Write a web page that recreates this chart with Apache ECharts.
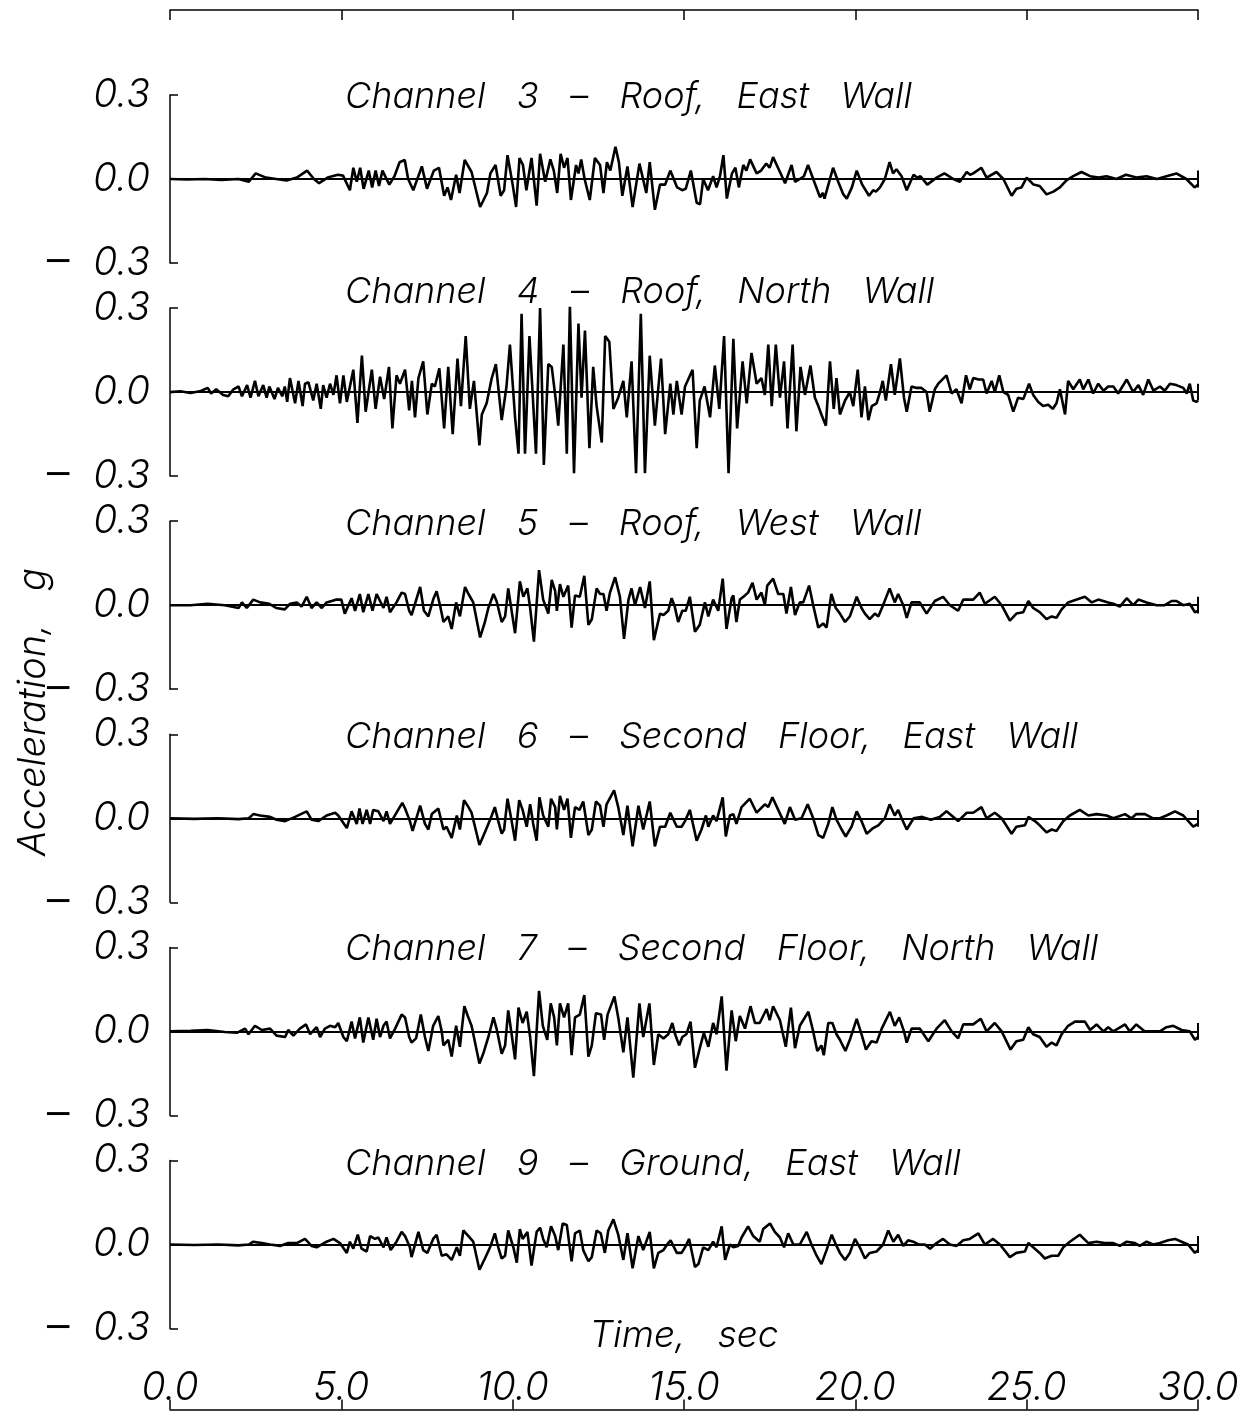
<!DOCTYPE html>
<html>
<head>
<meta charset="utf-8">
<script src="https://cdn.jsdelivr.net/npm/echarts@6/dist/echarts.min.js"></script>
<style>
html,body{margin:0;padding:0;background:#fff;}
#chart{width:1255px;height:1418px;}
</style>
</head>
<body>
<div id="chart"></div>
<script>
// ---- data (time in s, acceleration in g) ----
const G = "\u2002\u200A "; // wide word gap
const channelTitles = [
  ["Channel", "3", "\u2013", "Roof,", "East", "Wall"].join(G),
  ["Channel", "4", "\u2013", "Roof,", "North", "Wall"].join(G),
  ["Channel", "5", "\u2013", "Roof,", "West", "Wall"].join(G),
  ["Channel", "6", "\u2013", "Second", "Floor,", "East", "Wall"].join(G),
  ["Channel", "7", "\u2013", "Second", "Floor,", "North", "Wall"].join(G),
  ["Channel", "9", "\u2013", "Ground,", "East", "Wall"].join(G)
];
const xTicks = [0, 5, 10, 15, 20, 25, 30];
const yTicks = [-0.3, 0.0, 0.3];

const ch3 = [[0,0],[0.5,-0.002],[1,0],[1.5,-0.003],[2,0],[2.3,-0.01],[2.5,0.02],[2.8,0.005],[3.1,0.0],[3.4,-0.005],[3.7,0.005],[4.0,0.03],[4.2,0.0],[4.35,-0.015],[4.6,0.005],[4.9,0.015],[5.05,0.012],[5.25,-0.04],[5.35,0.04],[5.45,-0.01],[5.55,0.04],[5.65,-0.035],[5.8,0.03],[5.9,-0.03],[6.0,0.03],[6.1,-0.025],[6.2,0.03],[6.4,-0.02],[6.55,0.01],[6.7,0.06],[6.85,0.068],[6.95,0.0],[7.1,-0.04],[7.35,0.045],[7.5,-0.035],[7.7,0.03],[7.85,0.04],[8.0,-0.06],[8.1,-0.03],[8.2,-0.075],[8.35,0.015],[8.45,-0.05],[8.6,0.068],[8.8,0.025],[9.05,-0.1],[9.25,-0.05],[9.35,0.02],[9.5,0.05],[9.65,-0.06],[9.75,-0.04],[9.85,0.085],[10.0,-0.02],[10.1,-0.1],[10.2,0.075],[10.3,0.05],[10.4,-0.04],[10.55,0.075],[10.7,-0.095],[10.8,0.09],[10.95,-0.01],[11.1,0.07],[11.2,0.03],[11.3,-0.05],[11.4,0.09],[11.5,0.04],[11.6,0.075],[11.7,-0.075],[11.85,0.05],[11.92,0.02],[12.0,0.07],[12.1,0.0],[12.25,-0.075],[12.4,0.075],[12.55,0.05],[12.65,-0.05],[12.75,0.06],[12.85,0.03],[13.0,0.115],[13.1,0.06],[13.2,-0.06],[13.35,0.045],[13.5,-0.1],[13.7,0.055],[13.9,-0.05],[14.0,0.06],[14.15,-0.11],[14.3,-0.02],[14.45,-0.02],[14.6,0.03],[14.8,-0.03],[14.95,-0.04],[15.05,-0.035],[15.2,0.03],[15.37,-0.085],[15.47,-0.09],[15.56,0.0],[15.7,-0.04],[15.85,0.01],[15.95,-0.03],[16.05,0.01],[16.15,0.085],[16.25,-0.07],[16.4,0.02],[16.5,0.04],[16.6,-0.03],[16.73,0.05],[16.82,0.03],[16.93,0.07],[17.12,0.02],[17.25,0.03],[17.4,0.055],[17.5,0.04],[17.6,0.078],[17.8,0.025],[17.95,-0.015],[18.14,0.05],[18.24,-0.01],[18.38,0.0],[18.5,0.01],[18.62,0.05],[18.77,0.0],[18.97,-0.065],[19.05,-0.05],[19.1,-0.07],[19.35,0.04],[19.5,-0.01],[19.65,-0.055],[19.75,-0.07],[19.9,-0.03],[20.04,0.03],[20.2,-0.02],[20.4,-0.06],[20.52,-0.04],[20.6,-0.045],[20.72,-0.03],[20.86,0.0],[21.0,0.06],[21.1,0.02],[21.2,0.035],[21.35,0.01],[21.5,-0.04],[21.7,0.015],[21.8,0.005],[21.9,0.01],[22.1,-0.02],[22.37,0.005],[22.6,0.02],[22.86,0.0],[23.05,-0.01],[23.25,0.025],[23.35,0.015],[23.44,0.02],[23.68,0.04],[23.83,0.005],[24.12,0.025],[24.32,0.0],[24.56,-0.06],[24.7,-0.035],[24.85,-0.03],[25.0,0.005],[25.2,-0.02],[25.38,-0.025],[25.58,-0.055],[25.78,-0.045],[25.97,-0.03],[26.16,-0.005],[26.36,0.01],[26.6,0.025],[26.85,0.01],[27.1,0.005],[27.33,0.01],[27.62,0.0],[27.9,0.015],[28.2,0.005],[28.5,0.01],[28.8,0.0],[29.08,0.01],[29.37,0.02],[29.66,0.0],[29.9,-0.03],[30,-0.02]];

const ch4 = [[0,0],[0.3,0.003],[0.6,-0.003],[0.9,0.004],[1.1,0.015],[1.2,-0.005],[1.35,0.01],[1.55,-0.01],[1.7,-0.015],[1.85,0.01],[2.0,0.02],[2.1,-0.015],[2.25,0.025],[2.35,-0.02],[2.48,0.04],[2.58,-0.015],[2.72,0.025],[2.82,-0.02],[2.9,0.02],[3.05,-0.025],[3.15,0.015],[3.28,-0.015],[3.35,0.02],[3.42,-0.035],[3.5,0.05],[3.65,-0.04],[3.75,0.04],[3.87,-0.05],[3.94,0.03],[4.04,0.035],[4.18,-0.03],[4.28,0.03],[4.4,-0.06],[4.47,0.025],[4.57,-0.02],[4.67,0.03],[4.77,-0.01],[4.86,0.06],[4.96,-0.04],[5.06,0.06],[5.16,-0.035],[5.35,0.08],[5.47,-0.11],[5.6,0.13],[5.71,-0.07],[5.89,0.08],[6.0,-0.06],[6.13,0.055],[6.25,-0.025],[6.39,0.09],[6.49,-0.13],[6.61,0.06],[6.71,0.03],[6.86,0.08],[6.98,-0.065],[7.06,0.04],[7.15,-0.09],[7.25,0.05],[7.39,0.11],[7.51,-0.08],[7.64,0.03],[7.73,0.02],[7.86,0.085],[8.0,-0.13],[8.12,0.09],[8.25,-0.15],[8.39,0.12],[8.49,-0.05],[8.63,0.2],[8.75,-0.06],[8.87,0.04],[9.03,-0.19],[9.1,-0.08],[9.24,-0.04],[9.39,0.05],[9.51,0.1],[9.68,-0.1],[9.82,0.02],[9.92,0.17],[10.07,-0.09],[10.17,-0.22],[10.26,0.28],[10.36,-0.22],[10.49,0.2],[10.68,-0.22],[10.8,0.3],[10.91,-0.26],[11.04,0.1],[11.14,0.09],[11.26,-0.03],[11.33,-0.12],[11.48,0.17],[11.58,-0.22],[11.67,0.31],[11.79,-0.29],[11.92,0.245],[12.01,-0.02],[12.11,0.22],[12.24,-0.2],[12.35,0.09],[12.45,-0.05],[12.6,-0.18],[12.7,0.2],[12.82,0.18],[12.94,-0.06],[13.08,-0.02],[13.23,0.04],[13.33,-0.09],[13.47,0.11],[13.6,-0.29],[13.74,0.28],[13.86,-0.29],[14.0,0.13],[14.15,-0.12],[14.33,0.12],[14.45,-0.15],[14.6,0.03],[14.69,-0.08],[14.79,0.04],[14.93,-0.08],[15.03,0.02],[15.25,0.08],[15.37,-0.2],[15.46,-0.03],[15.6,0.02],[15.76,-0.09],[15.9,0.095],[16.03,-0.06],[16.17,0.2],[16.3,-0.29],[16.44,0.19],[16.55,-0.13],[16.71,0.11],[16.83,-0.04],[16.97,0.14],[17.12,0.03],[17.26,0.05],[17.36,-0.01],[17.46,0.17],[17.56,-0.05],[17.68,0.17],[17.8,-0.02],[17.92,0.11],[18.02,-0.13],[18.17,0.17],[18.28,-0.14],[18.4,0.09],[18.53,-0.01],[18.69,0.095],[18.82,-0.02],[18.92,-0.05],[19.01,-0.08],[19.14,-0.12],[19.26,0.11],[19.37,-0.06],[19.45,0.05],[19.55,-0.08],[19.7,-0.03],[19.84,0.0],[19.94,-0.05],[20.07,0.08],[20.18,-0.09],[20.28,0.02],[20.38,-0.1],[20.48,-0.05],[20.62,-0.04],[20.72,0.0],[20.8,0.04],[20.89,-0.03],[21.04,0.1],[21.15,-0.01],[21.3,0.12],[21.42,-0.02],[21.5,-0.07],[21.64,0.02],[21.79,0.015],[21.93,0.015],[22.08,0.0],[22.17,-0.07],[22.32,0.01],[22.42,0.03],[22.66,0.06],[22.81,-0.005],[22.95,0.01],[23.1,-0.04],[23.23,0.06],[23.34,0.01],[23.44,0.05],[23.6,0.045],[23.73,0.045],[23.83,-0.005],[23.98,0.04],[24.07,0.0],[24.2,0.06],[24.32,0.0],[24.46,-0.01],[24.61,-0.07],[24.75,-0.02],[24.9,-0.025],[25.07,0.03],[25.19,-0.01],[25.34,-0.035],[25.48,-0.05],[25.63,-0.045],[25.76,-0.06],[25.87,-0.04],[25.97,0.01],[26.12,-0.08],[26.21,0.04],[26.36,0.01],[26.55,0.045],[26.65,0.01],[26.8,0.045],[26.94,-0.005],[27.09,0.03],[27.24,0.005],[27.38,0.02],[27.53,0.02],[27.67,-0.005],[27.92,0.045],[28.11,0.0],[28.26,0.025],[28.4,-0.01],[28.55,0.045],[28.7,0.005],[28.89,0.02],[29.03,0.005],[29.18,0.03],[29.37,0.025],[29.57,0.015],[29.67,-0.005],[29.76,0.03],[29.86,-0.03],[29.96,-0.035],[30,-0.03]];

const ch5 = [[0,0],[0.6,0.0],[1.1,0.005],[1.6,0.0],[2.0,-0.01],[2.1,0.01],[2.24,-0.01],[2.43,0.02],[2.63,0.01],[2.9,0.005],[3.1,-0.01],[3.35,-0.015],[3.5,0.005],[3.7,0.01],[3.84,-0.005],[3.99,0.03],[4.13,-0.01],[4.28,0.01],[4.43,-0.01],[4.57,0.01],[4.72,0.015],[4.86,0.02],[5.0,0.02],[5.1,-0.03],[5.3,0.025],[5.4,-0.02],[5.54,0.04],[5.64,-0.025],[5.79,0.04],[5.91,-0.02],[6.03,0.04],[6.23,-0.01],[6.32,0.03],[6.42,-0.025],[6.61,0.01],[6.76,0.045],[6.86,0.04],[6.98,-0.02],[7.05,-0.035],[7.3,0.065],[7.41,-0.02],[7.54,-0.04],[7.68,0.02],[7.78,0.05],[7.88,0.0],[7.98,-0.06],[8.12,-0.04],[8.22,-0.085],[8.35,0.01],[8.46,-0.04],[8.61,0.065],[8.71,0.04],[8.85,0.01],[9.05,-0.115],[9.19,-0.06],[9.29,-0.01],[9.44,0.04],[9.53,0.015],[9.68,-0.06],[9.78,-0.04],[9.87,0.06],[9.92,0.02],[10.07,-0.1],[10.21,0.085],[10.31,0.03],[10.43,0.06],[10.51,-0.01],[10.62,-0.13],[10.77,0.125],[10.89,0.02],[11.04,-0.03],[11.14,0.09],[11.24,0.05],[11.29,-0.02],[11.38,0.075],[11.48,0.03],[11.62,0.07],[11.72,-0.08],[11.82,0.035],[11.96,0.03],[12.09,0.105],[12.21,-0.07],[12.31,-0.05],[12.45,0.06],[12.55,0.04],[12.65,0.04],[12.74,-0.02],[12.84,0.045],[12.99,0.1],[13.13,0.03],[13.25,-0.12],[13.38,0.02],[13.47,0.06],[13.57,0.0],[13.72,0.065],[13.86,-0.01],[14.0,0.085],[14.12,-0.125],[14.3,-0.03],[14.4,-0.035],[14.54,-0.02],[14.64,0.025],[14.73,-0.005],[14.83,-0.06],[14.95,-0.02],[15.05,-0.02],[15.17,0.03],[15.32,-0.095],[15.46,-0.07],[15.61,0.01],[15.71,-0.04],[15.85,0.02],[16.0,-0.02],[16.13,0.095],[16.24,-0.085],[16.39,0.025],[16.44,0.035],[16.53,-0.06],[16.63,0.02],[16.78,0.035],[16.87,0.045],[17.0,0.08],[17.12,0.02],[17.26,0.045],[17.36,0.0],[17.43,0.07],[17.6,0.095],[17.75,0.04],[17.9,0.04],[17.99,-0.03],[18.12,0.065],[18.24,-0.035],[18.38,0.01],[18.48,0.01],[18.65,0.07],[18.77,0.0],[18.92,-0.08],[19.06,-0.065],[19.16,-0.08],[19.3,0.04],[19.43,-0.01],[19.55,-0.03],[19.7,-0.06],[19.84,-0.04],[20.04,0.03],[20.18,-0.01],[20.28,-0.03],[20.42,-0.05],[20.57,-0.03],[20.67,-0.04],[20.81,0.0],[21.0,0.06],[21.15,0.01],[21.25,0.04],[21.4,0.0],[21.5,-0.045],[21.64,0.01],[21.88,0.01],[22.08,-0.03],[22.32,0.015],[22.56,0.03],[22.76,0.0],[23.0,-0.02],[23.15,0.02],[23.44,0.02],[23.63,0.045],[23.78,0.005],[24.07,0.03],[24.27,0.0],[24.51,-0.055],[24.7,-0.03],[24.9,-0.025],[25.05,0.015],[25.19,-0.01],[25.38,-0.025],[25.58,-0.05],[25.73,-0.04],[25.87,-0.045],[26.02,-0.015],[26.21,0.01],[26.46,0.02],[26.7,0.03],[26.9,0.01],[27.09,0.02],[27.38,0.01],[27.53,0.005],[27.72,-0.005],[27.92,0.025],[28.11,0.0],[28.26,0.02],[28.5,0.01],[28.79,0.0],[29.03,0.0],[29.23,0.015],[29.37,0.015],[29.57,0.0],[29.76,0.005],[29.91,-0.025],[30,-0.02]];

const ch6 = [[0,0],[0.7,-0.002],[1.4,0.0],[2.0,-0.003],[2.3,0.0],[2.43,0.015],[2.63,0.01],[2.92,0.005],[3.11,-0.005],[3.36,-0.01],[3.65,0.005],[3.99,0.025],[4.13,-0.005],[4.33,-0.01],[4.57,0.01],[4.82,0.02],[4.91,0.01],[5.16,-0.035],[5.3,0.025],[5.45,-0.02],[5.53,0.035],[5.62,-0.02],[5.74,0.03],[5.84,-0.02],[5.93,0.03],[6.08,0.025],[6.23,-0.01],[6.32,0.025],[6.42,-0.02],[6.61,0.02],[6.78,0.055],[6.86,0.035],[7.0,-0.01],[7.08,-0.045],[7.3,0.045],[7.44,-0.02],[7.54,-0.04],[7.64,0.015],[7.83,0.035],[7.98,-0.04],[8.07,-0.03],[8.22,-0.07],[8.37,0.01],[8.46,-0.04],[8.58,0.065],[8.71,0.04],[8.8,0.02],[9.03,-0.095],[9.19,-0.05],[9.29,-0.02],[9.39,0.01],[9.48,0.04],[9.58,-0.01],[9.68,-0.055],[9.75,-0.04],[9.85,0.07],[9.97,-0.01],[10.07,-0.08],[10.19,0.065],[10.29,0.03],[10.41,-0.03],[10.51,0.05],[10.6,-0.02],[10.7,-0.08],[10.78,0.075],[10.89,0.01],[11.04,-0.03],[11.12,0.07],[11.24,0.04],[11.29,-0.04],[11.38,0.08],[11.5,0.03],[11.6,0.07],[11.7,-0.07],[11.82,0.04],[11.95,0.03],[12.06,0.06],[12.21,-0.06],[12.31,-0.04],[12.43,0.06],[12.55,0.045],[12.65,-0.03],[12.74,0.05],[12.96,0.1],[13.08,0.04],[13.23,-0.06],[13.35,0.045],[13.5,-0.1],[13.67,0.045],[13.81,-0.04],[14.0,0.06],[14.15,-0.1],[14.3,-0.03],[14.45,-0.03],[14.6,0.02],[14.79,-0.03],[14.93,-0.03],[15.03,-0.01],[15.17,0.03],[15.37,-0.08],[15.51,-0.04],[15.64,0.01],[15.71,-0.03],[15.85,0.01],[15.95,-0.01],[16.13,0.075],[16.22,-0.065],[16.34,0.01],[16.44,0.015],[16.53,-0.02],[16.68,0.04],[16.92,0.07],[17.12,0.02],[17.36,0.05],[17.46,0.04],[17.58,0.075],[17.75,0.03],[17.94,-0.02],[18.09,0.04],[18.24,-0.005],[18.43,0.0],[18.61,0.05],[18.77,0.0],[18.92,-0.06],[19.06,-0.07],[19.21,-0.02],[19.33,0.04],[19.45,-0.005],[19.6,-0.04],[19.72,-0.065],[19.89,-0.03],[20.04,0.025],[20.18,-0.01],[20.33,-0.055],[20.52,-0.035],[20.67,-0.025],[20.86,0.0],[21.0,0.05],[21.15,0.01],[21.25,0.03],[21.35,0.0],[21.5,-0.04],[21.7,0.0],[21.95,0.005],[22.2,-0.005],[22.46,0.005],[22.66,0.025],[23.0,-0.01],[23.25,0.02],[23.44,0.02],[23.68,0.04],[23.83,0.0],[24.07,0.02],[24.27,0.0],[24.56,-0.055],[24.7,-0.03],[24.95,-0.025],[25.05,0.005],[25.24,-0.01],[25.38,-0.025],[25.58,-0.05],[25.73,-0.04],[25.87,-0.045],[26.07,-0.01],[26.26,0.01],[26.55,0.03],[26.8,0.01],[27.04,0.015],[27.33,0.01],[27.53,0.0],[27.87,0.015],[28.06,0.0],[28.2,0.015],[28.45,0.015],[28.69,0.0],[28.89,0.0],[29.08,0.01],[29.33,0.025],[29.57,0.01],[29.86,-0.03],[30,-0.02]];

const ch7 = [[0,0],[0.6,0.002],[1.1,0.005],[1.6,-0.002],[1.95,-0.005],[2.19,0.01],[2.29,-0.01],[2.48,0.02],[2.68,0.005],[2.92,0.01],[3.11,-0.015],[3.36,-0.02],[3.45,0.005],[3.6,-0.015],[3.79,0.01],[3.97,0.025],[4.09,-0.01],[4.28,0.015],[4.38,-0.02],[4.52,0.01],[4.67,0.02],[4.82,0.015],[4.91,0.03],[5.06,-0.02],[5.16,-0.035],[5.3,0.035],[5.4,-0.025],[5.54,0.05],[5.64,-0.04],[5.79,0.05],[5.93,-0.03],[6.03,0.045],[6.13,-0.02],[6.23,0.02],[6.32,0.035],[6.42,-0.025],[6.57,0.01],[6.76,0.06],[6.86,0.05],[6.98,-0.02],[7.05,-0.04],[7.18,-0.025],[7.32,0.06],[7.44,-0.02],[7.54,-0.07],[7.68,0.02],[7.83,0.055],[7.93,0.0],[7.98,-0.05],[8.12,-0.03],[8.22,-0.09],[8.35,0.02],[8.46,-0.055],[8.59,0.09],[8.69,0.055],[8.8,0.02],[9.03,-0.115],[9.14,-0.08],[9.29,-0.02],[9.44,0.05],[9.53,0.01],[9.68,-0.08],[9.78,-0.05],[9.87,0.075],[9.97,-0.01],[10.07,-0.1],[10.17,0.085],[10.29,0.03],[10.41,0.07],[10.51,-0.02],[10.62,-0.16],[10.77,0.145],[10.88,0.02],[11.01,-0.03],[11.11,0.1],[11.21,0.05],[11.29,-0.05],[11.38,0.1],[11.5,0.05],[11.62,0.1],[11.72,-0.085],[11.82,0.05],[11.96,0.06],[12.09,0.13],[12.21,-0.09],[12.31,-0.05],[12.43,0.065],[12.58,0.06],[12.67,-0.03],[12.77,0.06],[12.97,0.125],[13.08,0.05],[13.23,-0.075],[13.35,0.05],[13.52,-0.165],[13.7,0.1],[13.81,-0.02],[13.99,0.1],[14.12,-0.12],[14.25,-0.01],[14.4,-0.025],[14.54,-0.01],[14.66,0.03],[14.74,-0.01],[14.86,-0.05],[14.95,-0.02],[15.07,-0.01],[15.19,0.035],[15.32,-0.13],[15.46,-0.06],[15.58,-0.005],[15.71,-0.055],[15.85,0.03],[15.95,-0.01],[16.1,0.125],[16.24,-0.14],[16.39,0.075],[16.51,-0.035],[16.63,0.055],[16.78,0.01],[16.94,0.09],[17.07,0.03],[17.21,0.03],[17.41,0.08],[17.5,0.04],[17.6,0.09],[17.8,0.04],[17.97,-0.055],[18.12,0.085],[18.24,-0.06],[18.38,0.02],[18.63,0.07],[18.77,0.0],[18.89,-0.07],[19.01,-0.05],[19.08,-0.085],[19.21,0.03],[19.33,0.03],[19.45,-0.01],[19.55,-0.03],[19.71,-0.07],[19.84,-0.03],[20.04,0.045],[20.18,-0.01],[20.31,-0.065],[20.47,-0.035],[20.62,-0.04],[20.77,0.01],[21.01,0.07],[21.15,0.02],[21.28,0.05],[21.42,0.0],[21.5,-0.04],[21.64,0.01],[21.88,0.01],[22.13,-0.035],[22.37,0.01],[22.61,0.04],[22.81,0.0],[23.0,-0.025],[23.15,0.025],[23.44,0.025],[23.66,0.045],[23.83,0.0],[24.07,0.03],[24.27,0.0],[24.53,-0.065],[24.7,-0.035],[24.9,-0.03],[25.05,0.015],[25.19,-0.01],[25.38,-0.02],[25.58,-0.055],[25.73,-0.04],[25.87,-0.05],[26.02,-0.01],[26.21,0.02],[26.41,0.035],[26.7,0.035],[26.85,0.005],[27.04,0.025],[27.24,0.0],[27.38,0.015],[27.53,0.0],[27.87,0.025],[28.01,0.0],[28.2,0.025],[28.45,0.0],[28.65,0.0],[28.89,0.0],[29.08,0.015],[29.28,0.02],[29.52,0.005],[29.76,0.0],[29.91,-0.03],[30,-0.02]];

const ch9 = [[0,0],[0.7,-0.002],[1.4,0.0],[2.0,-0.003],[2.3,0.0],[2.43,0.01],[2.68,0.005],[2.92,0.0],[3.21,-0.005],[3.45,0.005],[3.7,0.005],[3.94,0.02],[4.13,-0.005],[4.28,-0.01],[4.57,0.01],[4.77,0.02],[4.96,0.005],[5.16,-0.03],[5.25,0.01],[5.35,-0.015],[5.48,0.035],[5.59,-0.015],[5.74,-0.025],[5.84,0.03],[5.98,0.02],[6.08,0.025],[6.23,-0.01],[6.32,0.025],[6.44,-0.02],[6.61,0.01],[6.76,0.045],[6.86,0.03],[7.0,-0.01],[7.05,-0.045],[7.25,0.045],[7.39,-0.02],[7.51,-0.03],[7.68,0.02],[7.78,0.035],[7.93,-0.04],[8.07,-0.035],[8.22,-0.055],[8.37,-0.01],[8.46,-0.04],[8.56,0.05],[8.71,0.03],[8.85,0.01],[9.03,-0.09],[9.19,-0.05],[9.34,-0.01],[9.48,0.04],[9.58,-0.01],[9.68,-0.05],[9.78,-0.04],[9.87,0.05],[10.02,-0.01],[10.12,-0.065],[10.21,0.055],[10.29,0.02],[10.43,0.045],[10.55,-0.075],[10.7,0.045],[10.8,0.06],[10.89,0.02],[10.99,-0.01],[11.12,0.065],[11.24,0.03],[11.33,-0.02],[11.46,0.075],[11.58,0.07],[11.72,-0.06],[11.82,0.04],[11.96,0.05],[12.06,-0.02],[12.21,-0.06],[12.31,-0.045],[12.45,0.05],[12.57,0.04],[12.69,-0.03],[12.79,0.05],[12.94,0.09],[13.08,0.035],[13.23,-0.055],[13.35,0.04],[13.5,-0.085],[13.67,0.03],[13.81,-0.02],[14.0,0.045],[14.12,-0.085],[14.25,-0.03],[14.4,-0.02],[14.54,0.005],[14.61,0.015],[14.79,-0.03],[14.93,-0.03],[15.03,-0.01],[15.15,0.02],[15.32,-0.08],[15.42,-0.07],[15.56,-0.01],[15.71,-0.02],[15.85,0.01],[15.95,-0.01],[16.1,0.065],[16.2,-0.055],[16.34,0.0],[16.44,-0.01],[16.58,-0.005],[16.68,0.025],[16.87,0.065],[17.02,0.03],[17.21,0.01],[17.31,0.055],[17.51,0.075],[17.65,0.045],[17.8,0.025],[17.92,-0.01],[18.04,0.04],[18.19,0.0],[18.38,0.0],[18.58,0.045],[18.72,0.0],[18.87,-0.04],[19.01,-0.07],[19.16,-0.02],[19.31,0.035],[19.45,-0.005],[19.55,-0.03],[19.7,-0.055],[19.84,-0.03],[19.99,0.02],[20.13,-0.01],[20.28,-0.05],[20.42,-0.03],[20.62,-0.025],[20.81,0.0],[20.96,0.05],[21.11,0.01],[21.25,0.035],[21.4,-0.005],[21.54,0.015],[21.69,0.01],[21.84,0.0],[22.03,0.0],[22.18,-0.015],[22.37,0.005],[22.56,0.02],[22.76,0.0],[22.95,-0.005],[23.15,0.015],[23.34,0.02],[23.59,0.04],[23.78,0.0],[24.02,0.02],[24.22,0.0],[24.51,-0.045],[24.7,-0.03],[24.95,-0.025],[25.05,0.005],[25.19,-0.01],[25.38,-0.03],[25.53,-0.05],[25.73,-0.04],[25.92,-0.04],[26.07,-0.01],[26.26,0.01],[26.55,0.035],[26.8,0.005],[27.04,0.01],[27.28,0.005],[27.53,0.005],[27.72,-0.005],[27.92,0.01],[28.16,0.005],[28.3,-0.005],[28.5,0.01],[28.69,0.0],[28.89,0.005],[29.13,0.015],[29.33,0.02],[29.52,0.01],[29.71,0.0],[29.91,-0.03],[30,-0.02]];

const channels = [ch3, ch4, ch5, ch6, ch7, ch9];

// ---- layout / style ----
const FONT = 'Inter, "DejaVu Sans", sans-serif';
const gridLeft = 170, gridRight = 57, gridTop0 = 95, gridStep = 213.1, gridH = 168;
const titleCenters = [95, 290, 522, 735, 947, 1162];
const txt = {fontFamily: FONT, fontStyle: 'italic', fontWeight: 300, color: '#000'};

const grids = [], xAxes = [], yAxes = [], series = [], titles = [];
channels.forEach((data, i) => {
  const top = gridTop0 + gridStep * i;
  grids.push({left: gridLeft, right: gridRight, top: top, height: gridH, containLabel: false});
  const xa = {
    type: 'value', gridIndex: i, min: xTicks[0], max: xTicks[xTicks.length - 1], interval: 5,
    splitLine: {show: false}
  };
  if (i === 0) {
    Object.assign(xa, {
      position: 'top', offset: 85,
      axisLine: {show: true, onZero: false, lineStyle: {color: '#000', width: 1.5}},
      axisTick: {show: true, inside: true, length: 10, lineStyle: {color: '#000', width: 1.5}},
      axisLabel: {show: false}
    });
  } else if (i === channels.length - 1) {
    Object.assign(xa, {
      position: 'bottom', offset: 81,
      axisLine: {show: true, onZero: false, lineStyle: {color: '#000', width: 1.5}},
      axisTick: {show: true, inside: true, length: 10, lineStyle: {color: '#000', width: 1.5}},
      axisLabel: Object.assign({show: true, inside: true, margin: 2, fontSize: 39,
        formatter: v => v.toFixed(1)}, txt)
    });
  } else {
    Object.assign(xa, {show: false, axisLine: {onZero: false}});
  }
  xAxes.push(xa);
  yAxes.push({
    type: 'value', gridIndex: i, min: yTicks[0], max: yTicks[yTicks.length - 1], interval: 0.3,
    splitLine: {show: false},
    axisLine: {show: true, lineStyle: {color: '#000', width: 1.5}},
    axisTick: {show: true, inside: true, length: 8, lineStyle: {color: '#000', width: 1.5}},
    axisLabel: {
      show: true, margin: 20,
      formatter: v => (v < 0 ? '{m|\u2212}' : '') + '{n|' + Math.abs(v).toFixed(1) + '}',
      rich: {
        m: {fontFamily: '"DejaVu Sans", sans-serif', fontSize: 36, fontWeight: 'normal',
            color: '#000', padding: [0, 20, 0, 0]},
        n: Object.assign({fontSize: 39}, txt)
      }
    }
  });
  series.push({
    type: 'line', xAxisIndex: i, yAxisIndex: i, data: data,
    showSymbol: false, symbol: 'none', smooth: false,
    lineStyle: {color: '#000', width: 2.6},
    z: 3,
    markLine: {
      silent: true, symbol: 'none', label: {show: false}, animation: false,
      lineStyle: {color: '#000', width: 2, type: 'solid'},
      data: [
        {yAxis: 0},
        [{coord: [30, -0.03]}, {coord: [30, 0.03]}]
      ]
    }
  });
  titles.push({
    text: channelTitles[i], left: 340, top: titleCenters[i] - 21,
    textStyle: Object.assign({fontSize: 36}, txt)
  });
});

const chart = echarts.init(document.getElementById('chart'), null, {renderer: 'canvas'});
chart.setOption({
  animation: false,
  backgroundColor: '#fff',
  title: titles,
  grid: grids,
  xAxis: xAxes,
  yAxis: yAxes,
  series: series,
  graphic: [
    {type: 'text', x: 34, y: 712, rotation: Math.PI / 2,
     style: {text: 'Acceleration,' + G + 'g', fill: '#000', font: 'italic 300 38px ' + FONT,
             align: 'center', verticalAlign: 'middle', textAlign: 'center', textVerticalAlign: 'middle'}},
    {type: 'text', x: 684, y: 1336,
     style: {text: 'Time,' + G + 'sec', fill: '#000', font: 'italic 300 37px ' + FONT,
             align: 'center', verticalAlign: 'middle', textAlign: 'center', textVerticalAlign: 'middle'}}
  ]
});
</script>
</body>
</html>
